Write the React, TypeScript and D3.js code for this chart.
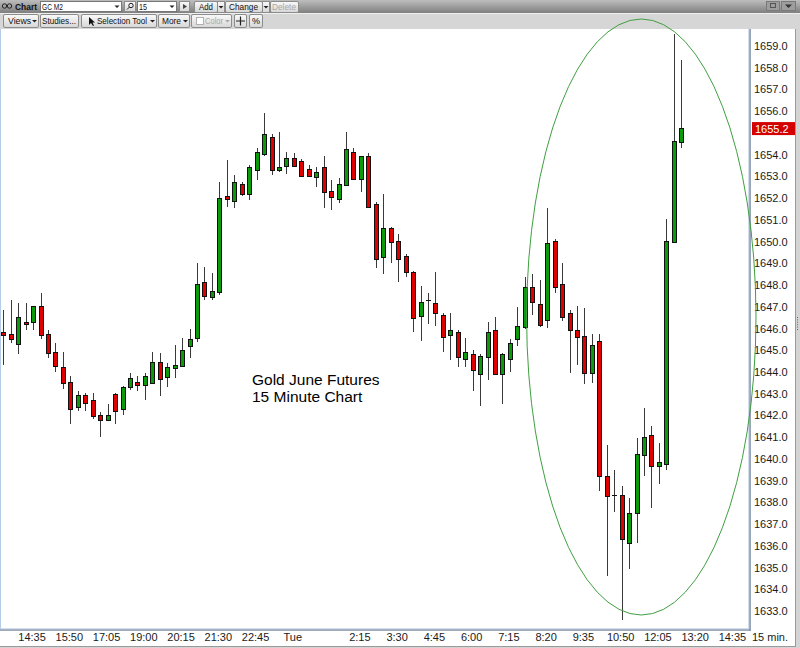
import React from 'react';
import * as d3 from 'd3';

// ---- Data (15-minute candles, Gold June futures GC M2) ----
const opens = [
  1645.84, 1645.73, 1645.29, 1646.31, 1646.28, 1647.03, 1645.73, 1644.92, 1644.21, 1643.54,
  1642.40, 1642.94, 1642.71, 1642.00, 1641.79, 1643.00, 1642.31, 1643.29, 1643.54, 1643.40,
  1643.50, 1644.44, 1643.78, 1644.20, 1644.29, 1645.19, 1645.58, 1648.13, 1647.46, 1647.69,
  1652.11, 1651.88, 1652.64, 1652.18, 1653.29, 1654.02, 1654.81, 1653.28, 1653.49, 1653.83,
  1653.72, 1653.33, 1652.99, 1653.42, 1652.33, 1651.97, 1652.59, 1654.14, 1652.89, 1653.94,
  1651.73, 1649.30, 1650.64, 1650.03, 1649.34, 1648.61, 1646.59, 1647.31, 1647.16, 1646.62,
  1645.70, 1645.85, 1644.60, 1644.83, 1643.89, 1644.70, 1645.93, 1643.89, 1644.60, 1645.50,
  1646.08, 1647.92, 1647.13, 1646.39, 1650.03, 1648.03, 1646.73, 1645.93, 1645.65, 1643.97,
  1645.42, 1639.21, 1638.32, 1638.32, 1636.12, 1637.51, 1640.17, 1641.12, 1639.68, 1639.77,
  1650.00, 1654.60,
];
const highs = [
  1646.85, 1647.31, 1647.16, 1647.16, 1647.05, 1647.62, 1645.93, 1645.32, 1644.93, 1643.81,
  1643.14, 1643.05, 1643.02, 1642.17, 1642.53, 1643.02, 1643.35, 1643.94, 1643.81, 1643.94,
  1644.93, 1644.86, 1644.40, 1645.24, 1645.55, 1645.96, 1649.03, 1648.84, 1648.54, 1652.76,
  1653.75, 1653.06, 1652.76, 1653.52, 1654.32, 1655.93, 1654.95, 1655.03, 1654.14, 1654.06,
  1653.80, 1653.52, 1653.45, 1653.94, 1652.83, 1652.94, 1655.03, 1654.32, 1653.95, 1654.06,
  1651.83, 1652.19, 1650.68, 1650.33, 1649.43, 1648.65, 1647.96, 1647.62, 1648.61, 1646.73,
  1646.73, 1645.93, 1645.55, 1645.01, 1644.83, 1646.31, 1646.51, 1644.89, 1645.50, 1646.98,
  1648.37, 1648.51, 1648.25, 1651.53, 1650.10, 1649.03, 1646.85, 1647.03, 1646.93, 1645.75,
  1645.75, 1640.64, 1639.51, 1638.75, 1638.22, 1640.95, 1642.32, 1641.53, 1640.74, 1651.04,
  1659.54, 1658.35,
];
const lows = [
  1644.32, 1645.32, 1644.83, 1645.93, 1645.93, 1645.52, 1644.63, 1644.01, 1643.22, 1641.60,
  1642.22, 1642.22, 1641.82, 1641.02, 1641.75, 1641.60, 1642.02, 1643.17, 1643.14, 1642.71,
  1643.45, 1642.91, 1643.32, 1643.71, 1644.21, 1644.63, 1645.39, 1647.31, 1647.31, 1647.54,
  1651.60, 1651.53, 1652.11, 1651.91, 1652.83, 1653.95, 1653.06, 1653.22, 1653.11, 1653.45,
  1652.98, 1652.95, 1652.53, 1651.53, 1651.45, 1651.76, 1652.55, 1652.85, 1652.29, 1651.55,
  1648.77, 1648.51, 1649.03, 1648.13, 1648.38, 1645.82, 1645.42, 1646.21, 1646.11, 1644.90,
  1644.55, 1644.21, 1644.21, 1643.14, 1642.43, 1643.63, 1643.85, 1642.52, 1644.01, 1645.19,
  1646.00, 1646.62, 1646.09, 1646.01, 1647.62, 1646.36, 1643.94, 1644.32, 1643.45, 1643.50,
  1638.54, 1634.63, 1637.54, 1632.58, 1634.92, 1636.12, 1639.20, 1637.74, 1638.85, 1639.50,
  1649.98, 1654.30,
];
const closes = [
  1645.70, 1645.50, 1646.51, 1646.19, 1647.03, 1645.70, 1644.89, 1644.29, 1643.50, 1642.31,
  1642.93, 1642.58, 1641.99, 1641.79, 1642.00, 1642.20, 1643.32, 1643.71, 1643.39, 1643.81,
  1644.44, 1643.68, 1644.21, 1644.32, 1645.01, 1645.52, 1648.05, 1647.50, 1647.73, 1651.99,
  1651.96, 1652.73, 1652.18, 1653.42, 1654.14, 1654.94, 1653.28, 1653.42, 1653.83, 1653.49,
  1653.02, 1653.02, 1653.22, 1652.29, 1652.06, 1652.64, 1654.25, 1652.89, 1653.94, 1651.60,
  1649.20, 1650.64, 1649.99, 1649.21, 1648.59, 1646.50, 1647.21, 1647.31, 1646.70, 1645.59,
  1645.93, 1644.70, 1644.90, 1644.09, 1644.73, 1645.82, 1643.89, 1644.83, 1645.32, 1646.11,
  1647.92, 1647.20, 1646.18, 1649.92, 1647.90, 1646.51, 1645.93, 1645.59, 1643.97, 1645.24,
  1639.19, 1638.29, 1638.32, 1636.30, 1637.53, 1640.21, 1641.03, 1639.68, 1639.86, 1650.02,
  1654.61, 1655.23,
];
const timeTickIndex = [4, 9, 14, 19, 24, 29, 34, 39, 48, 53, 58, 63, 68, 73, 78, 83, 88, 93, 98];
const timeTickLabels = [
  '14:35', '15:50', '17:05', '19:00', '20:15', '21:30', '22:45', 'Tue', '2:15', '3:30',
  '4:45', '6:00', '7:15', '8:20', '9:35', '10:50', '12:05', '13:20', '14:35',
];
const priceMin = 1633;
const priceMax = 1659;
const lastPrice = 1655.2;
const periodLabel = '15 min.';
const symbol = 'GC M2';
const interval = '15';
const annotationLines = ['Gold June Futures', '15 Minute Chart'];

const W = 800;
const H = 648;
const FONT = '"Liberation Sans", Arial, sans-serif';
const PLOT_RIGHT = 750;
const PLOT_TOP = 29;
const PLOT_BOTTOM = 630;
const GREEN = '#0a9a0a';
const RED = '#e00000';

function Arrow({ x, y, color = '#222' }: { x: number; y: number; color?: string }) {
  return <path d={`M${x - 2.5},${y - 1} L${x + 2.5},${y - 1} L${x},${y + 1.5} Z`} fill={color} />;
}

function Label({ x, y, text, len, color = '#111', bold = false }: any) {
  return (
    <text
      x={x}
      y={y}
      fontSize={9.5}
      fontFamily={FONT}
      fontWeight={bold ? 'bold' : 'normal'}
      fill={color}
      textLength={len}
      lengthAdjust="spacingAndGlyphs"
    >
      {text}
    </text>
  );
}

function Btn({ x, y, w, h, label, disabled, arrow, tx, tl }: any) {
  return (
    <g>
      <rect x={x + 0.5} y={y + 0.5} width={w} height={h} rx={1.5} fill="url(#btnGrad)" stroke="#8c8c8c" />
      {label && (
        <Label x={tx} y={y + h / 2 + 3.8} text={label} len={tl} color={disabled ? '#a8a8a8' : '#111'} />
      )}
      {arrow && <Arrow x={x + w - 3.5} y={y + h / 2 + 0.5} color={disabled ? '#a8a8a8' : '#222'} />}
    </g>
  );
}

export default function App() {
  const n = opens.length;
  const x = d3.scaleLinear().domain([0, n - 1]).range([3.3, 3.3 + 7.45 * (n - 1)]);
  const y = d3.scaleLinear().domain([priceMin, priceMax]).range([611, 46]);
  const priceTicks = d3.range(priceMin, priceMax + 1);

  const candles = d3.range(n).map((i) => {
    const o = opens[i], c = closes[i], hi = highs[i], lo = lows[i];
    const cx = Math.round(x(i)) + 0.5;
    const top = Math.round(y(Math.max(o, c))) + 0.5;
    const bot = Math.round(y(Math.min(o, c))) + 0.5;
    const doji = Math.abs(c - o) < 0.02;
    return (
      <g key={i}>
        <line x1={cx} x2={cx} y1={y(hi)} y2={y(lo)} stroke="#3a3a3a" strokeWidth={1} />
        {doji ? (
          <line x1={cx - 2.5} x2={cx + 2.5} y1={top} y2={top} stroke="#111" strokeWidth={1} />
        ) : (
          <rect
            x={cx - 2}
            y={top}
            width={4}
            height={Math.max(1, bot - top)}
            fill={c >= o ? GREEN : RED}
            stroke="#111"
            strokeWidth={1}
          />
        )}
      </g>
    );
  });

  return (
    <svg
      width={W}
      height={H}
      viewBox={`0 0 ${W} ${H}`}
      style={{ position: 'absolute', left: 0, top: 0, display: 'block' }}
    >
      <defs>
        <linearGradient id="titleGrad" x1="0" y1="0" x2="0" y2="1">
          <stop offset="0" stopColor="#bdbdbd" />
          <stop offset="1" stopColor="#7f7f7f" />
        </linearGradient>
        <linearGradient id="btnGrad" x1="0" y1="0" x2="0" y2="1">
          <stop offset="0" stopColor="#fafafa" />
          <stop offset="1" stopColor="#d6d6d6" />
        </linearGradient>
      </defs>

      {/* window background */}
      <rect x={0} y={0} width={W} height={H} fill="#d4d4d4" />

      {/* title bar */}
      <rect x={0} y={0} width={W} height={13} fill="url(#titleGrad)" />
      <g fill="none" stroke="#222" strokeWidth={1}>
        <circle cx={4.5} cy={6} r={2.2} />
        <circle cx={9.5} cy={6} r={2.2} />
      </g>
      <Label x={15} y={9.8} text="Chart" len={22} bold />
      <rect x={40.5} y={1.5} width={81} height={10} fill="#fff" stroke="#777" />
      <Label x={42} y={9.8} text={symbol} len={21} />
      <Arrow x={117} y={6.5} />
      <rect x={124.5} y={1.5} width={11} height={10} fill="url(#btnGrad)" stroke="#8c8c8c" />
      <circle cx={131} cy={5.5} r={2.2} fill="none" stroke="#222" />
      <line x1={129.5} y1={7} x2={127} y2={9.5} stroke="#222" />
      <rect x={137.5} y={1.5} width={39} height={10} fill="#fff" stroke="#777" />
      <Label x={139} y={9.8} text={interval} len={8} />
      <Arrow x={172} y={6.5} />
      <rect x={179.5} y={1.5} width={10} height={10} fill="url(#btnGrad)" stroke="#8c8c8c" />
      <path d="M183,4 L187,6.5 L183,9 Z" fill="#444" />
      <Btn x={194} y={1} w={23} h={11} label="Add" tx={199} tl={14} />
      <rect x={217.5} y={1.5} width={7} height={11} fill="url(#btnGrad)" stroke="#8c8c8c" />
      <Arrow x={221} y={7} />
      <Btn x={225} y={1} w={37} h={11} label="Change" tx={229} tl={29} />
      <rect x={262.5} y={1.5} width={7} height={11} fill="url(#btnGrad)" stroke="#8c8c8c" />
      <Arrow x={266} y={7} />
      <Btn x={270} y={1} w={28} h={11} label="Delete" disabled tx={272} tl={24} />
      <rect x={766.5} y={1.5} width={13} height={9} fill="#9d9d9d" stroke="#7a7a7a" />
      <rect x={770.5} y={3.5} width={5} height={4} fill="none" stroke="#555" />
      <rect x={781.5} y={1.5} width={14} height={9} fill="#9d9d9d" stroke="#7a7a7a" />
      <path d="M785,4.5 L792,4.5 L788.5,8 Z" fill="#333" />

      {/* toolbar row 2 */}
      <rect x={0} y={13} width={W} height={16} fill="#d6d6d6" />
      <line x1={0} x2={W} y1={13.5} y2={13.5} stroke="#efefef" />
      <Btn x={3} y={14} w={35} h={13} label="Views" arrow tx={8} tl={23} />
      <Btn x={40} y={14} w={38} h={13} label="Studies..." tx={42} tl={34} />
      <Btn x={81} y={14} w={75} h={13} label="Selection Tool" arrow tx={97} tl={50} />
      <path d="M89,17 L89,25 L91,23 L93,26 L94,25.5 L92.5,22.5 L95,22.5 Z" fill="#111" />
      <Btn x={158} y={14} w={31} h={13} label="More" arrow tx={162} tl={19} />
      <Btn x={191} y={14} w={40} h={13} label="Color" arrow disabled tx={205} tl={18} />
      <rect x={196.5} y={17.5} width={7} height={7} fill="#fff" stroke="#b0b0b0" />
      <Btn x={234} y={14} w={12} h={13} label="" />
      <path d="M240.5,16.5 L240.5,25.5 M236,21 L245,21" stroke="#222" strokeWidth={1.2} />
      <Btn x={249} y={14} w={13} h={13} label="%" tx={252} tl={8} />

      {/* plot area & axis panels */}
      <rect x={0} y={PLOT_TOP} width={795} height={647 - PLOT_TOP} fill="#fff" />
      <line x1={0.5} x2={0.5} y1={PLOT_TOP} y2={PLOT_BOTTOM} stroke="#b5cde8" />
      <line x1={PLOT_RIGHT} x2={PLOT_RIGHT} y1={PLOT_TOP} y2={PLOT_BOTTOM + 1} stroke="#7f8ea6" strokeWidth={1.6} />
      <line x1={0} x2={PLOT_RIGHT} y1={PLOT_BOTTOM} y2={PLOT_BOTTOM} stroke="#7f8ea6" strokeWidth={1.6} />
      <line x1={0} x2={PLOT_RIGHT - 1} y1={PLOT_BOTTOM - 1.3} y2={PLOT_BOTTOM - 1.3} stroke="#c9d6e8" />
      <line x1={PLOT_RIGHT - 1.3} x2={PLOT_RIGHT - 1.3} y1={PLOT_TOP} y2={PLOT_BOTTOM - 1} stroke="#c9d6e8" />
      <line x1={795.5} x2={795.5} y1={PLOT_TOP} y2={647} stroke="#9a9a9a" />
      <line x1={0} x2={796} y1={646.5} y2={646.5} stroke="#9a9a9a" />
      {d3.range(0, 6).map((k) => (
        <rect key={k} x={797} y={317 + k * 2.4} width={1} height={1} fill="#666" />
      ))}

      {/* candles */}
      <g shapeRendering="crispEdges">{candles}</g>

      {/* annotation */}
      {annotationLines.map((t, i) => (
        <text key={i} x={252} y={385 + i * 17} fontSize={15.5} fontFamily={FONT} fill="#000">{t}</text>
      ))}

      {/* price axis (last-price tag drawn over the tick it hides) */}
      {priceTicks
        .filter((p) => Math.abs(y(p) - y(lastPrice)) > 8)
        .map((p) => (
          <text key={p} x={754} y={y(p) + 4} fontSize={11} fontFamily={FONT} fill="#1a1a1a">
            {p.toFixed(1)}
          </text>
        ))}
      <rect x={752} y={y(lastPrice) - 6.5} width={43} height={13} fill="#d40000" />
      <text x={755} y={y(lastPrice) + 4} fontSize={11} fontFamily={FONT} fill="#fff">{lastPrice.toFixed(1)}</text>

      {/* time axis */}
      {timeTickIndex.map((idx, i) => (
        <text key={i} x={x(idx) - 1} y={641} fontSize={11} fontFamily={FONT} fill="#1a1a1a" textAnchor="middle">
          {timeTickLabels[i]}
        </text>
      ))}
      <text x={770} y={641} fontSize={11} fontFamily={FONT} fill="#1a1a1a" textAnchor="middle">{periodLabel}</text>

      {/* highlight ellipse */}
      <ellipse cx={641.3} cy={317} rx={114.7} ry={298} fill="none" stroke="#3f9f3f" strokeWidth={1} />
    </svg>
  );
}
